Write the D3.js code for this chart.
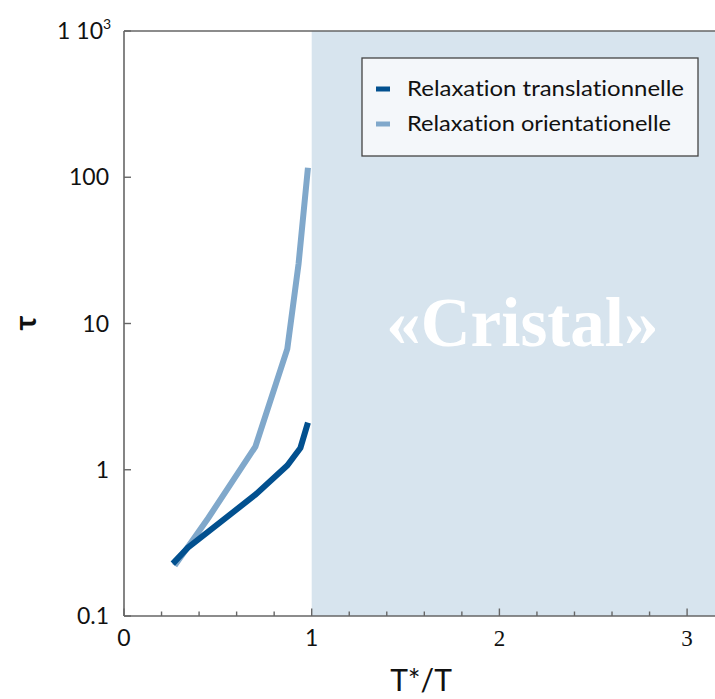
<!DOCTYPE html>
<html><head><meta charset="utf-8">
<script src="https://cdn.jsdelivr.net/npm/d3@7"></script>
<style>
html,body{margin:0;padding:0;background:#fff;}
svg{display:block;}
text{font-family:Lato, "Open Sans", sans-serif; font-variant-ligatures:none;}
</style></head>
<body><svg id="c" width="715" height="699"></svg>
<script>
const seriesNames = ["Relaxation translationnelle", "Relaxation orientationelle"];
const seriesColors = ["#02508f", "#80a8cb"];
const transX = [0.26, 0.34, 0.70, 0.87, 0.94, 0.98];
const transY = [0.228, 0.293, 0.675, 1.07, 1.41, 2.10];
const orientX = [0.27, 0.45, 0.70, 0.87, 0.93, 0.98];
const orientY = [0.221, 0.47, 1.44, 6.7, 25.6, 116];
const xTicks = [0, 1, 2, 3];
const yTicks = [0.1, 1, 10, 100, 1000];
const yTickLabels = ["0.1", "1", "10", "100", "1 10"];
const regionStart = 1;
const regionLabel = "«Cristal»";

const svg = d3.select("#c");
const L = 124, R = 715, T = 31, B = 616;
const x = d3.scaleLinear().domain([0, (R - L) / 187.7]).range([L, R]);
const y = d3.scaleLog().domain([0.1, 1000]).range([B, T]);

// shaded region
svg.append("rect").attr("x", x(regionStart)).attr("y", T).attr("width", R - x(regionStart)).attr("height", B - T).attr("fill", "#d7e4ee");
svg.append("text").attr("x", (x(regionStart) + R) / 2 + 9).attr("y", 346).attr("text-anchor", "middle")
  .style("font-family", "'Liberation Serif', serif").style("font-weight", "bold").style("font-size", "69px")
  .attr("fill", "#ffffff").text(regionLabel);

// axes
const axCol = "#666";
svg.append("line").attr("x1", L).attr("x2", R).attr("y1", T).attr("y2", T).attr("stroke", axCol).attr("stroke-width", 1.6);
svg.append("line").attr("x1", L).attr("x2", L).attr("y1", T).attr("y2", B).attr("stroke", axCol).attr("stroke-width", 1.6);
svg.append("line").attr("x1", L).attr("x2", R).attr("y1", B).attr("y2", B).attr("stroke", axCol).attr("stroke-width", 1.6);

const minor = d3.range(0, 3.15, 0.2).filter(v => Math.abs(v - Math.round(v)) > 0.01);
svg.selectAll(".mt").data(minor).join("line").attr("x1", d => x(d)).attr("x2", d => x(d)).attr("y1", B).attr("y2", B - 4.5).attr("stroke", axCol).attr("stroke-width", 1.4);
svg.selectAll(".Mt").data(xTicks).join("line").attr("x1", d => x(d)).attr("x2", d => x(d)).attr("y1", B).attr("y2", B - 7.5).attr("stroke", axCol).attr("stroke-width", 1.4);
svg.selectAll(".xl").data(xTicks).join("text").attr("x", d => x(d)).attr("y", 646).attr("text-anchor", "middle")
  .style("font-size", "23px").style("font-family", d => d >= 2 ? "'Liberation Serif', serif" : "Lato, sans-serif")
  .attr("fill", "#111").text(d => d);

svg.selectAll(".yt").data(yTicks).join("line").attr("x1", L).attr("x2", L + 7).attr("y1", d => y(d)).attr("y2", d => y(d)).attr("stroke", axCol).attr("stroke-width", 1.4);
svg.selectAll(".yl").data(yTicks).join("text").attr("x", (d, i) => i === 4 ? 103 : 109).attr("y", d => y(d) + 8).attr("text-anchor", "end")
  .style("font-size", "23px").attr("fill", "#111").text((d, i) => yTickLabels[i]);
svg.append("text").attr("x", 103).attr("y", y(1000) - 2).style("font-size", "14px").attr("fill", "#111").text("3");

svg.append("text").attr("x", 421).attr("y", 691).attr("text-anchor", "middle").style("font-size", "30px").attr("fill", "#111").text("T*/T");
svg.append("text").attr("transform", "translate(36,323) rotate(-90)").attr("text-anchor", "middle").style("font-size", "31px").style("font-weight", "bold").attr("fill", "#111").text("τ");

// lines
const line = d3.line().x(d => x(d[0])).y(d => y(d[1]));
const oData = orientX.map((v, i) => [v, orientY[i]]);
const tData = transX.map((v, i) => [v, transY[i]]);
svg.append("path").attr("d", line(oData)).attr("fill", "none").attr("stroke", seriesColors[1]).attr("stroke-width", 6);
svg.append("path").attr("d", line(tData)).attr("fill", "none").attr("stroke", seriesColors[0]).attr("stroke-width", 6);

// legend
const legendWidths = [277, 264];
const lg = svg.append("g");
lg.append("rect").attr("x", 362).attr("y", 58).attr("width", 336).attr("height", 98).attr("fill", "#f4f7fa").attr("stroke", "#444").attr("stroke-width", 1.3);
seriesNames.forEach((n, i) => {
  const yy = 89 + i * 35;
  lg.append("line").attr("x1", 376).attr("x2", 390).attr("y1", yy).attr("y2", yy).attr("stroke", seriesColors[i]).attr("stroke-width", 5);
  lg.append("text").attr("x", 407).attr("y", yy + 7).style("font-size", "21.5px").attr("fill", "#111")
    .attr("textLength", legendWidths[i]).attr("lengthAdjust", "spacingAndGlyphs").text(n);
});
</script></body></html>
